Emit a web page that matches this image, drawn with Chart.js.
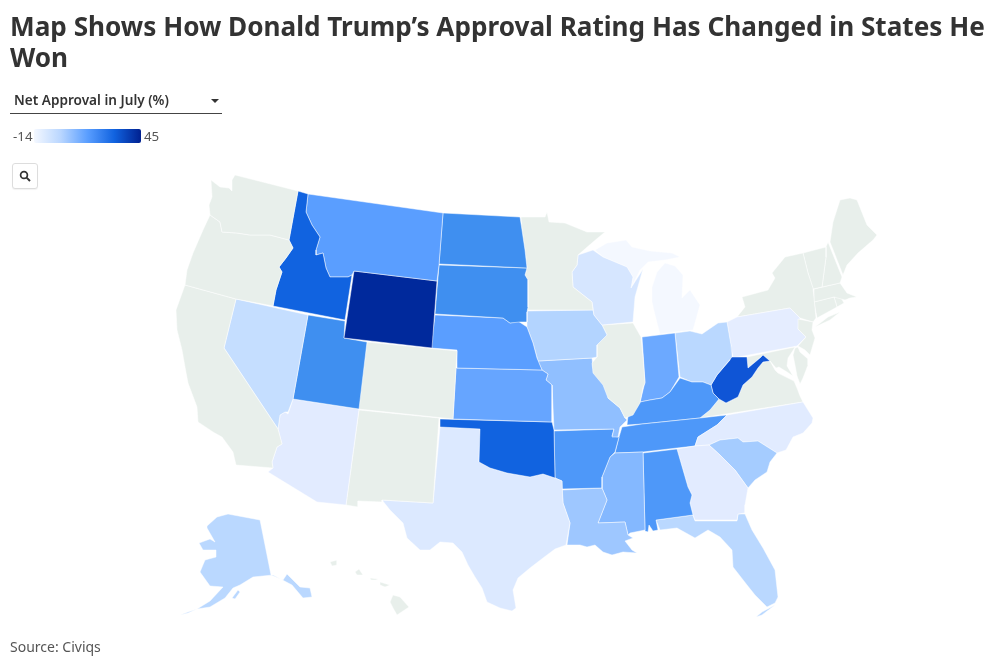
<!DOCTYPE html>
<html>
<head>
<meta charset="utf-8">
<title>Trump approval map</title>
<script src="https://cdn.jsdelivr.net/npm/chart.js@4"></script>
<style>
html, body { margin: 0; padding: 0; background: #fff; }
body { width: 999px; height: 666px; position: relative; overflow: hidden; font-family: "Noto Sans", sans-serif; color: #333; }
#mapWrap { position: absolute; left: 0; top: 0; width: 999px; height: 666px; }
h1 { position: absolute; left: 10px; top: 11px; width: 988px; margin: 0; font-size: 26.15px; line-height: 31px; font-weight: 700; color: #333; }
#select { position: absolute; left: 10px; top: 90px; width: 212px; height: 23px; border-bottom: 1px solid #444; box-sizing: content-box; }
#select span { position: absolute; left: 4px; top: 0; font-size: 13.6px; line-height: 20px; font-weight: 600; color: #333; }
#select i { position: absolute; left: 201px; top: 9px; width: 0; height: 0; border: 4px solid transparent; border-top: 4px solid #333; border-left-width: 4.5px; border-right-width: 4.5px; }
.legendLabel { position: absolute; top: 127px; font-size: 13.3px; line-height: 18px; color: #555; }
#legendBar { position: absolute; left: 34px; top: 129px; width: 107px; height: 14px; border-radius: 2px; background: linear-gradient(to right, #f4f8ff, #b9d6ff 25%, #5a9eff 50%, #1163e0 75%, #00208f); }
#searchBtn { position: absolute; left: 12px; top: 163px; width: 24px; height: 24px; border: 1px solid #ddd; border-radius: 3px; background: #fff; box-shadow: 0 1px 1px rgba(0,0,0,.05); }
#searchBtn svg { position: absolute; left: 6px; top: 6px; }
#source { position: absolute; left: 10px; top: 638px; font-size: 14px; line-height: 18px; color: #555; }
</style>
</head>
<body>
<div id="mapWrap"><canvas id="map" width="999" height="666"></canvas></div>
<h1 id="title">Map Shows How Donald Trump’s Approval Rating Has Changed in States He Won</h1>
<div id="select"><span>Net Approval in July (%)</span><i></i></div>
<div class="legendLabel" style="left:13px">-14</div>
<div id="legendBar"></div>
<div class="legendLabel" style="left:144px">45</div>
<div id="searchBtn"><svg width="12" height="12" viewBox="0 0 12 12"><circle cx="5" cy="5" r="3.4" fill="none" stroke="#333" stroke-width="1.7"/><line x1="7.6" y1="7.6" x2="11" y2="11" stroke="#333" stroke-width="1.9"/></svg></div>
<div id="source">Source: Civiqs</div>
<script>
var WA = [[211,180],[220,187],[229,188],[232,191],[232,180],[235,175],[298,191],[289,240],[270,235],[250,235],[237,233],[222,232],[220,222],[210,215],[209,205],[212,197]];
var OR = [[210,215],[220,222],[222,232],[237,233],[250,235],[270,235],[289,240],[293,248],[286,258],[279,267],[282,272],[276,290],[273,306],[236,299],[185,285],[187,270],[193,253],[203,230]];
var CA = [[185,285],[236,299],[224,348],[278,429],[282,444],[277,447],[272,462],[273,468],[236,465],[233,452],[222,437],[213,432],[198,422],[197,407],[188,383],[185,367],[182,350],[177,330],[176,310]];
var NV = [[236,299],[308,315],[293,399],[288,412],[285,412],[280,415],[278,429],[224,348]];
var ID = [[298,191],[308,194],[306,212],[312,225],[320,237],[316,250],[316,255],[323,253],[326,268],[330,277],[348,277],[352,275],[345,320],[273,306],[276,290],[282,272],[279,267],[286,258],[293,248],[289,240]];
var MT = [[308,194],[443,213],[439,265],[437,281],[354,271],[352,275],[348,277],[330,277],[326,268],[323,253],[316,255],[316,250],[320,237],[312,225],[306,212]];
var WY = [[354,271],[437,281],[432,348],[344,338]];
var UT = [[308,315],[345,321],[344,338],[367,342],[359,409],[293,399]];
var CO = [[367,342],[457,351],[453,419],[358,409]];
var AZ = [[293,399],[359,409],[346,505],[317,502],[268,472],[273,468],[272,462],[277,447],[282,444],[278,429],[280,415],[285,412],[288,414]];
var NM = [[359,410],[439,418],[433,503],[382,500],[382,502],[358,501],[358,507],[346,505]];
var ND = [[443,213],[520,217],[522,230],[525,250],[527,268],[439,264]];
var SD = [[439,265],[527,268],[525,275],[528,280],[528,307],[527,312],[527,322],[520,322],[510,323],[503,318],[435,314]];
var NE = [[435,315],[503,318],[510,323],[518,321],[527,327],[533,343],[537,358],[542,370],[457,368],[457,350],[431,348]];
var KS = [[456,368],[542,370],[548,374],[546,380],[552,385],[552,422],[453,419]];
var OK = [[440,419],[552,422],[554,430],[555,478],[543,474],[530,477],[507,473],[490,468],[479,462],[480,429],[440,427]];
var TX = [[440,427],[480,429],[479,462],[490,468],[507,473],[530,477],[543,474],[555,478],[562,481],[563,503],[570,523],[566,545],[555,549],[543,558],[530,568],[518,578],[513,590],[516,608],[512,611],[500,608],[487,602],[482,588],[475,577],[468,565],[462,552],[453,543],[440,542],[430,550],[420,550],[407,538],[403,523],[390,510],[382,500],[433,503]];
var MN = [[521,217],[545,217],[547,212],[549,222],[565,223],[587,232],[605,232],[593,242],[578,255],[577,265],[572,272],[573,287],[592,302],[593,310],[528,310],[528,280],[525,275],[527,268],[525,250],[522,230]];
var WI = [[578,255],[593,250],[603,257],[627,267],[633,277],[631,288],[643,269],[635,297],[633,322],[602,325],[594,315],[592,302],[573,287],[572,272],[577,265]];
var IA = [[528,311],[593,310],[594,315],[602,325],[607,335],[597,345],[597,357],[592,358],[538,361],[533,343],[527,327],[527,312]];
var IL = [[602,325],[633,323],[641,337],[643,357],[645,383],[643,387],[640,403],[633,415],[625,418],[620,408],[608,398],[603,385],[593,373],[592,363],[597,357],[597,345],[607,335]];
var MO = [[538,361],[592,358],[593,368],[603,382],[610,387],[608,398],[620,408],[625,418],[627,420],[620,427],[618,437],[612,437],[614,429],[554,430],[552,385],[546,380],[548,374],[542,370]];
var AR = [[554,431],[614,429],[612,436],[619,437],[615,452],[610,457],[602,477],[602,488],[562,489],[562,481],[555,478]];
var LA = [[562,490],[602,488],[607,500],[598,523],[625,522],[628,535],[633,538],[625,541],[632,550],[637,553],[623,552],[612,555],[603,552],[595,545],[587,547],[580,545],[567,545],[570,523],[563,503]];
var MS = [[610,457],[615,453],[643,452],[645,530],[630,533],[628,535],[625,522],[598,523],[607,500],[602,488],[602,477]];
var AL = [[643,453],[677,449],[688,487],[692,495],[690,503],[693,515],[656,520],[658,530],[653,531],[649,525],[648,532],[645,531]];
var GA = [[677,449],[695,446],[709,445],[720,455],[735,470],[748,488],[745,505],[745,513],[738,514],[737,520],[695,520],[693,515],[690,503],[692,495],[688,487]];
var FL = [[656,520],[693,515],[695,521],[737,521],[738,514],[745,514],[752,530],[763,548],[775,570],[778,597],[775,603],[767,607],[755,595],[747,585],[733,567],[732,550],[720,537],[708,530],[695,538],[677,528],[660,530]];
var FL_KEYS = [[775,605],[762,615],[756,617],[762,612]];
var SC = [[709,445],[720,440],[738,438],[743,442],[758,441],[777,453],[770,462],[767,472],[755,480],[748,488],[735,470],[720,455]];
var NC = [[727,415],[803,402],[813,418],[812,423],[803,433],[793,437],[786,450],[777,453],[758,441],[743,442],[738,438],[720,440],[709,445],[695,446],[698,437],[717,425]];
var TN = [[727,415],[717,425],[698,437],[695,446],[677,448],[643,452],[615,453],[619,437],[622,427],[642,424],[700,418]];
var KY = [[627,425],[628,416],[635,410],[640,402],[650,400],[662,398],[670,392],[680,378],[692,382],[703,382],[711,385],[713,393],[719,399],[710,410],[700,418],[642,424]];
var IN = [[642,337],[675,333],[679,377],[670,392],[662,398],[650,400],[640,402],[645,382]];
var OH = [[675,333],[690,331],[702,334],[718,323],[727,322],[731,345],[732,357],[717,375],[711,385],[703,382],[692,382],[680,377]];
var WV = [[731,345],[732,357],[747,357],[748,368],[760,358],[763,355],[770,361],[763,362],[758,368],[752,377],[743,385],[738,397],[726,403],[719,399],[713,393],[711,385],[717,375],[730,360]];
var VA = [[700,418],[803,402],[800,396],[797,388],[794,381],[786,377],[778,373],[775,370],[770,361],[763,362],[758,368],[752,377],[743,385],[738,397],[726,403],[719,399],[710,410]];
var MD = [[747,357],[795,347],[792,352],[788,358],[787,366],[793,376],[787,372],[779,367],[776,368],[770,361],[763,355],[748,368]];
var DE_SHORE = [[795,348],[798,347],[800,352],[808,359],[808,365],[803,378],[800,384],[797,376],[795,365],[793,355]];
var NJ = [[798,319],[813,322],[812,330],[815,338],[810,355],[805,350],[798,346],[806,337],[798,329]];
var PA = [[727,322],[737,317],[790,308],[800,318],[798,329],[806,337],[797,346],[733,358]];
var NY = [[737,317],[745,307],[742,297],[768,290],[775,278],[772,273],[785,257],[803,253],[808,273],[813,288],[816,318],[813,322],[800,318],[790,308]];
var NY_LI = [[815,327],[828,317],[840,312],[830,320]];
var VT = [[803,253],[826,247],[826,257],[822,287],[813,289],[808,273]];
var NH = [[826,247],[828,242],[842,277],[840,283],[822,287],[826,257]];
var ME = [[830,242],[833,222],[840,200],[850,198],[857,200],[867,225],[877,235],[873,240],[858,253],[847,265],[843,275]];
var MA = [[814,289],[840,283],[847,293],[857,297],[850,298],[845,300],[834,297],[814,302]];
var CT = [[814,302],[834,297],[837,307],[817,318]];
var RI = [[834,297],[840,296],[844,303],[837,307]];
var MI_UP = [[595,250],[607,243],[620,241],[626,240],[632,247],[650,251],[672,253],[680,257],[665,260],[648,262],[640,270],[631,288],[633,277],[627,267],[603,257]];
var MI_LP = [[665,263],[675,266],[683,275],[682,298],[690,290],[700,305],[693,330],[675,332],[660,334],[655,315],[652,302],[652,287],[657,272]];
var AK = [[207,526],[217,517],[228,514],[260,520],[271,575],[283,580],[287,574],[300,587],[310,588],[312,597],[303,598],[292,585],[273,575],[253,577],[240,585],[233,588],[225,598],[210,607],[197,609],[210,601],[223,587],[210,586],[200,572],[205,560],[216,557],[216,550],[203,550],[199,543],[210,539],[215,542],[207,528]];
var AK_KODIAK = [[232,598],[238,590],[240,592],[235,599]];
var AK_ALEUTIANS = [[197,609],[188,612],[180,615],[188,613]];
var HI_BIG = [[393,595],[400,597],[409,607],[397,615],[393,608],[390,602]];
var HI_MAUI = [[380,582],[390,585],[385,587],[380,585]];
var HI_MOLOKAI = [[370,578],[378,579],[376,580],[371,580]];
var HI_OAHU = [[355,572],[359,569],[363,575],[357,575]];
var HI_KAUAI = [[330,562],[337,560],[337,565],[332,566]];

var stateCodes = ['WA','OR','CA','NV','ID','MT','WY','UT','CO','AZ','NM','ND','SD','NE','KS','OK','TX','MN','WI','IA','IL','MO','AR','LA','MS','AL','GA','FL','SC','NC','TN','KY','IN','OH','WV','VA','MD','DE','NJ','PA','NY','VT','NH','ME','MA','CT','RI','MI','AK','HI'];
// net approval in July; null = state not in the data (Trump lost it)
var netApproval = [null,null,null,0,33,17,45,24,null,-8,null,24,24,17,15,33,-4,null,-3,3,null,8,20,6,10,20,-8,2,5,-7,20,20,14,2,38,null,null,null,null,-9,null,null,null,null,null,null,null,-14,2,null];
var stateOutlines = [[WA],[OR],[CA],[NV],[ID],[MT],[WY],[UT],[CO],[AZ],[NM],[ND],[SD],[NE],[KS],[OK],[TX],[MN],[WI],[IA],[IL],[MO],[AR],[LA],[MS],[AL],[GA],[FL,FL_KEYS],[SC],[NC],[TN],[KY],[IN],[OH],[WV],[VA],[MD],[DE_SHORE],[NJ],[PA],[NY,NY_LI],[VT],[NH],[ME],[MA],[CT],[RI],[MI_UP,MI_LP],[AK,AK_KODIAK,AK_ALEUTIANS],[HI_BIG,HI_MAUI,HI_MOLOKAI,HI_OAHU,HI_KAUAI]];

var colorStops = [-14,-8,-4,2,8,17,24,33,38,45];
var colorValues = ['#f4f8ff','#e2ebff','#dce9ff','#bad8ff','#90bfff','#5a9eff','#3f8ff0','#1163e0','#0f55d6','#00299c'];
var noDataColor = '#e8efeb';

function hexToRgb(hex) {
    return [1, 3, 5].map(function (i) { return parseInt(hex.substr(i, 2), 16); });
}

function valueToColor(v) {
    if (v === null) return noDataColor;
    if (v <= colorStops[0]) return colorValues[0];
    for (var i = 1; i < colorStops.length; i++) {
        if (v <= colorStops[i]) {
            var t = (v - colorStops[i - 1]) / (colorStops[i] - colorStops[i - 1]);
            var a = hexToRgb(colorValues[i - 1]);
            var b = hexToRgb(colorValues[i]);
            return 'rgb(' + a.map(function (c, k) { return Math.round(c + (b[k] - c) * t); }).join(',') + ')';
        }
    }
    return colorValues[colorValues.length - 1];
}

var datasets = [];
stateCodes.forEach(function (code, idx) {
    var color = valueToColor(netApproval[idx]);
    stateOutlines[idx].forEach(function (ring) {
        var pts = ring.concat([ring[0]]).map(function (p) { return { x: p[0], y: p[1] }; });
        datasets.push({
            label: code,
            data: pts,
            showLine: true,
            fill: 'shape',
            tension: 0,
            pointRadius: 0,
            pointHoverRadius: 0,
            backgroundColor: color,
            borderColor: 'rgba(255,255,255,0.65)',
            borderWidth: 0.75
        });
    });
});

new Chart(document.getElementById('map').getContext('2d'), {
    type: 'scatter',
    data: { datasets: datasets },
    options: {
        responsive: false,
        animation: false,
        layout: { padding: 0 },
        plugins: { legend: { display: false }, tooltip: { enabled: false } },
        scales: {
            x: { type: 'linear', min: 0, max: 999, display: false },
            y: { type: 'linear', min: 0, max: 666, reverse: true, display: false }
        }
    }
});
</script>
</body>
</html>
